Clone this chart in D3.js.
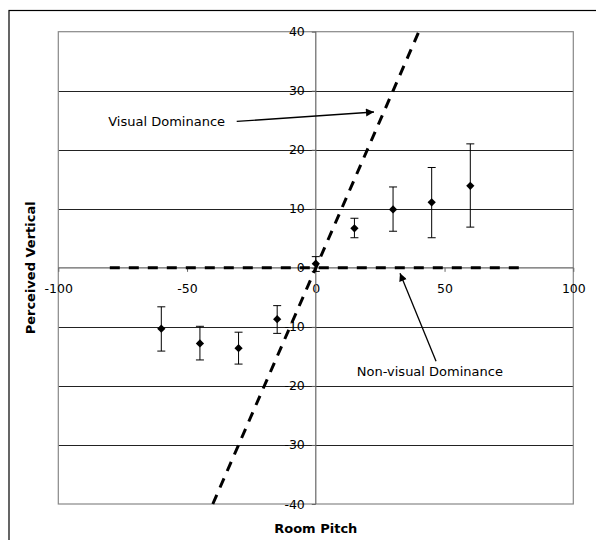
<!DOCTYPE html>
<html>
<head>
<meta charset="utf-8">
<script src="https://cdn.jsdelivr.net/npm/d3@7"></script>
<style>
  html, body { margin: 0; padding: 0; background: #fff; }
  svg { display: block; }
  text { font-family: "DejaVu Sans", Verdana, sans-serif; }
</style>
</head>
<body>
<svg id="chart" width="596" height="540"></svg>
<script>
// ---- data ----
const pitch      = [-60, -45, -30, -15, 0, 15, 30, 45, 60];
const perceived  = [-10.3, -12.8, -13.6, -8.7, 0.7, 6.7, 9.9, 11.1, 13.9];
const errUpper   = [-6.6, -9.9, -10.9, -6.4, 1.9, 8.4, 13.7, 17.0, 21.0];
const errLower   = [-14.1, -15.6, -16.3, -11.1, -0.6, 5.1, 6.2, 5.1, 6.9];
const visualLineX    = [-40, 41];
const visualLineY    = [-40, 41];
const nonVisualLineX = [-80, 80];
const nonVisualLineY = [0, 0];
const xTicks = [-100, -50, 0, 50, 100];
const yTicks = [-40, -30, -20, -10, 0, 10, 20, 30, 40];
const xTitle = "Room Pitch";
const yTitle = "Perceived Vertical";
const annVisual    = { text: "Visual Dominance", tx: -80.6, ty: 24.1, from: [-30.7, 24.8], to: [22.6, 26.4] };
const annNonVisual = { text: "Non-visual Dominance", tx: 44.3, ty: -18.4, from: [46.7, -15.8], to: [32.7, -0.9] };

// ---- layout ----
const svg = d3.select("#chart");
const x = d3.scaleLinear().domain([-100, 100]).range([58.3, 573.3]);
const y = d3.scaleLinear().domain([-40, 40]).range([504, 31.7]);

// outer frame (right/bottom run off the picture)
svg.append("rect").attr("x", 9).attr("y", 10.5).attr("width", 620).attr("height", 600)
  .attr("fill", "none").attr("stroke", "#000").attr("stroke-width", 1.2);

// gridlines
svg.append("g").selectAll("line").data(yTicks.filter(d => d > -40 && d < 40 && d !== 0)).join("line")
  .attr("x1", x(-100)).attr("x2", x(100))
  .attr("y1", d => Math.round(y(d)) + 0.5).attr("y2", d => Math.round(y(d)) + 0.5)
  .attr("stroke", "#222").attr("stroke-width", 1);

// plot border
svg.append("rect").attr("x", x(-100)).attr("y", y(40))
  .attr("width", x(100) - x(-100)).attr("height", y(-40) - y(40))
  .attr("fill", "none").attr("stroke", "#888").attr("stroke-width", 1.2);

// axes
const fmt = d => String(d);
const xAxis = d3.axisBottom(x).tickValues(xTicks).tickSize(4).tickPadding(12).tickFormat(fmt);
const yAxis = d3.axisLeft(y).tickValues(yTicks).tickSize(4).tickPadding(7).tickFormat(fmt);

const gx = svg.append("g").attr("transform", `translate(0,${y(0)})`).call(xAxis);
const gy = svg.append("g").attr("transform", `translate(${x(0)},0)`).call(yAxis);
[gx, gy].forEach(g => {
  g.select(".domain").attr("stroke", "#666").attr("stroke-width", 1.2);
  g.selectAll(".tick line").attr("stroke", "#666");
  g.selectAll(".tick text").attr("font-size", 12.5).attr("fill", "#000")
    .attr("font-family", "'DejaVu Sans', Verdana, sans-serif");
});
gx.select(".domain").attr("d", `M${x(-100)},0H${x(100)}`);
gy.select(".domain").attr("d", `M0,${y(-40)}V${y(40)}`);

// dashed model lines
const line = d3.line().x(d => x(d[0])).y(d => y(d[1]));
svg.append("path").datum(visualLineX.map((v, i) => [v, visualLineY[i]]))
  .attr("d", line).attr("fill", "none").attr("stroke", "#000")
  .attr("stroke-width", 3).attr("stroke-dasharray", "10,8");
svg.append("path").datum(nonVisualLineX.map((v, i) => [v, nonVisualLineY[i]]))
  .attr("d", line).attr("fill", "none").attr("stroke", "#000")
  .attr("stroke-width", 3).attr("stroke-dasharray", "10,9");

// error bars
const data = pitch.map((p, i) => ({ p, v: perceived[i], hi: errUpper[i], lo: errLower[i] }));
const eb = svg.append("g").attr("stroke", "#000").attr("stroke-width", 1);
eb.selectAll("line.v").data(data).join("line").attr("class", "v")
  .attr("x1", d => x(d.p)).attr("x2", d => x(d.p))
  .attr("y1", d => y(d.hi)).attr("y2", d => y(d.lo));
eb.selectAll("line.t").data(data).join("line").attr("class", "t")
  .attr("x1", d => x(d.p) - 4).attr("x2", d => x(d.p) + 4)
  .attr("y1", d => y(d.hi)).attr("y2", d => y(d.hi));
eb.selectAll("line.b").data(data).join("line").attr("class", "b")
  .attr("x1", d => x(d.p) - 4).attr("x2", d => x(d.p) + 4)
  .attr("y1", d => y(d.lo)).attr("y2", d => y(d.lo));

// diamond markers
svg.append("g").selectAll("path").data(data).join("path")
  .attr("d", d3.symbol().type(d3.symbolSquare).size(34)())
  .attr("transform", d => `translate(${x(d.p)},${y(d.v)}) rotate(45)`)
  .attr("fill", "#000");

// arrow marker
svg.append("defs").append("marker")
  .attr("id", "arrow").attr("viewBox", "0 0 10 10").attr("refX", 10).attr("refY", 5)
  .attr("markerWidth", 10).attr("markerHeight", 8).attr("markerUnits", "userSpaceOnUse")
  .attr("orient", "auto")
  .append("path").attr("d", "M0,0L10,5L0,10Z").attr("fill", "#000");

// annotations
[annVisual, annNonVisual].forEach((a, i) => {
  svg.append("line")
    .attr("x1", x(a.from[0])).attr("y1", y(a.from[1]))
    .attr("x2", x(a.to[0])).attr("y2", y(a.to[1]))
    .attr("stroke", "#000").attr("stroke-width", 1.3)
    .attr("marker-end", "url(#arrow)");
  svg.append("text").attr("x", x(a.tx)).attr("y", y(a.ty))
    .attr("text-anchor", i === 0 ? "start" : "middle")
    .attr("font-size", 13).attr("fill", "#000").text(a.text);
});

// axis titles
svg.append("text").attr("x", x(0)).attr("y", 532.5).attr("text-anchor", "middle")
  .attr("font-size", 13).attr("font-weight", "bold").text(xTitle);
svg.append("text").attr("transform", `translate(34.5,${y(0)}) rotate(-90)`)
  .attr("text-anchor", "middle").attr("font-size", 13).attr("font-weight", "bold").text(yTitle);
</script>
</body>
</html>
